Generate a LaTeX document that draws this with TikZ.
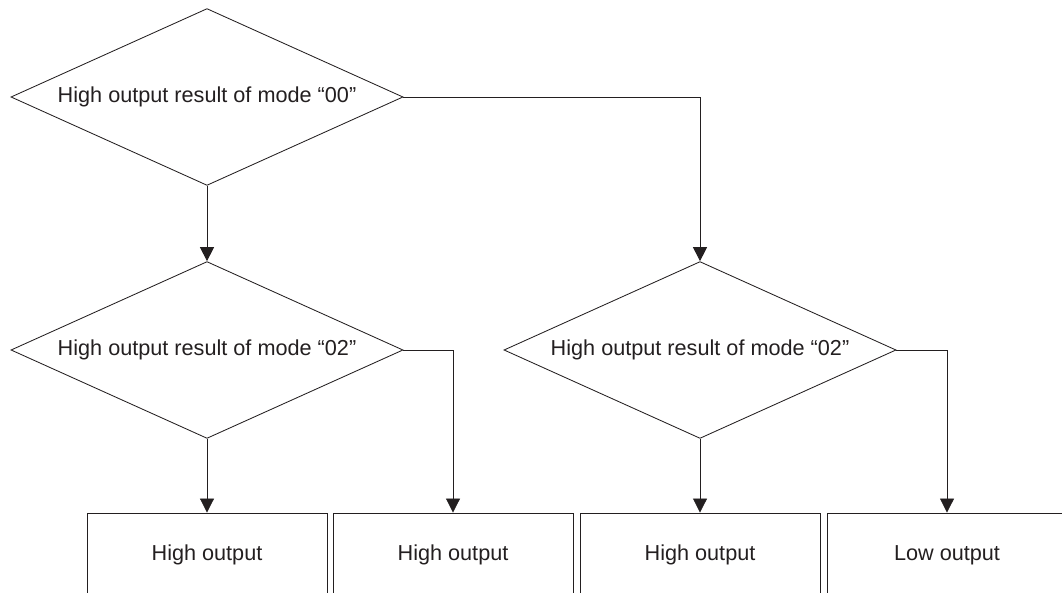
\documentclass[tikz,border=0pt]{standalone}
\usepackage{fontspec}
\setmainfont{Liberation Sans}
\usetikzlibrary{shapes.geometric,arrows.meta}
\definecolor{ink}{HTML}{231F20}

\begin{document}
\begin{tikzpicture}[x=0.025cm,y=0.025cm,
    every node/.style={font=\fontsize{15.4}{18}\selectfont, text=ink},
    test/.style={diamond, draw=ink, line width=0.6pt, inner sep=0pt,
      aspect=2.22, minimum width=9.8cm, minimum height=4.42cm},
    result/.style={rectangle, draw=ink, line width=0.6pt,
      minimum width=6cm, minimum height=2.1cm},
    arr/.style={draw=ink, line width=0.6pt, -{Triangle[length=10pt,width=10pt]}}]
  \useasboundingbox (0,0) rectangle (1062,592);
  \clip (0,0) rectangle (1062,592);
  \path
    (207,495) node[test] (m00){High output result of mode “00”}
    (207,242) node[test] (m02a){High output result of mode “02”}
    (700,242) node[test] (m02b){High output result of mode “02”}
    (207,37) node[result] (hi1){High output}
    (453,37) node[result] (hi2){High output}
    (700,37) node[result] (hi3){High output}
    (947,37) node[result] (lo){Low output};
  \begin{scope}[arr]
    \draw (m00.south) to (m02a.north);
    \draw (m00.east) -| (m02b.north);
    \draw (m02a.south) to (hi1.north);
    \draw (m02a.east) -| (hi2.north);
    \draw (m02b.south) to (hi3.north);
    \draw (m02b.east) -| (lo.north);
  \end{scope}
\end{tikzpicture}
\end{document}
